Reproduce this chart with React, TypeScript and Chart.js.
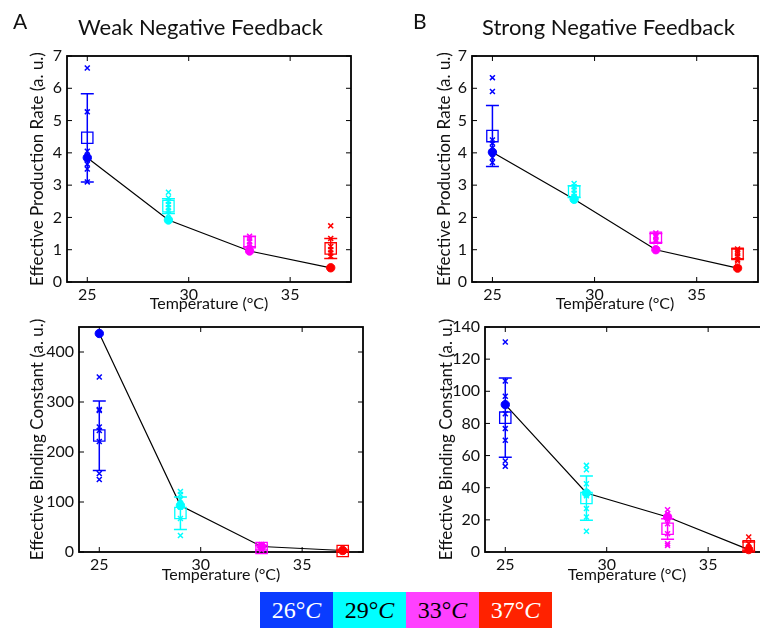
import React, { useEffect, useRef } from 'react';
import { Chart, registerables } from 'chart.js';

Chart.register(...registerables);

// ---------- data ----------
const temperatures = [25, 29, 33, 37];
const tempColors = ['#0000ff', '#00ffff', '#ff00ff', '#ff0000'];
const xTickValues = [25, 30, 35];

const prodTickValues = [0, 1, 2, 3, 4, 5, 6, 7];
const weakBindTickValues = [0, 100, 200, 300, 400];
const strongBindTickValues = [0, 20, 40, 60, 80, 100, 120, 140];

// Weak negative feedback – production rate
const weakProdFit = [3.85, 1.92, 0.96, 0.44];
const weakProdMean = [4.47, 2.35, 1.23, 1.04];
const weakProdLow = [3.1, 2.12, 1.09, 0.73];
const weakProdHigh = [5.83, 2.58, 1.42, 1.35];
const weakProdSamples25 = [6.63, 5.27, 4.05, 3.9, 3.8, 3.65, 3.5, 3.1];
const weakProdSamples29 = [2.78, 2.6, 2.5, 2.4, 2.3, 2.2, 2.1];
const weakProdSamples33 = [1.42, 1.35, 1.25, 1.15, 1.08];
const weakProdSamples37 = [1.74, 1.35, 1.1, 1.0, 0.9, 0.8];

// Strong negative feedback – production rate
const strongProdFit = [4.02, 2.56, 1.0, 0.43];
const strongProdMean = [4.52, 2.8, 1.37, 0.87];
const strongProdLow = [3.58, 2.62, 1.22, 0.72];
const strongProdHigh = [5.47, 2.98, 1.5, 1.02];
const strongProdSamples25 = [6.33, 5.9, 4.4, 4.3, 4.15, 4.0, 3.85, 3.7];
const strongProdSamples29 = [3.05, 2.95, 2.85, 2.75, 2.65, 2.6];
const strongProdSamples33 = [1.52, 1.45, 1.4, 1.3, 1.25];
const strongProdSamples37 = [1.02, 0.95, 0.88, 0.8, 0.7, 0.65];

// Weak negative feedback – binding constant
const weakBindFit = [437, 93, 11, 3];
const weakBindMean = [233, 78, 8, 2];
const weakBindLow = [163, 45, 4, 0.5];
const weakBindHigh = [302, 110, 13, 4];
const weakBindSamples25 = [350, 285, 283, 250, 243, 221, 157, 145];
const weakBindSamples29 = [121, 115, 105, 97, 90, 67, 33];
const weakBindSamples33 = [15, 12, 9, 6, 4];
const weakBindSamples37 = [5, 3, 2, 1];

// Strong negative feedback – binding constant
const strongBindFit = [91.7, 36.7, 21.8, 1.5];
const strongBindMean = [83.6, 33.6, 14.5, 3.5];
const strongBindLow = [59, 19.7, 7.9, 0.6];
const strongBindHigh = [108.3, 47.3, 20.7, 6.2];
const strongBindSamples25 = [130.7, 106.4, 96.9, 86, 76.8, 69.5, 56.6, 53.3];
const strongBindSamples29 = [53.9, 51.2, 42.5, 35, 27, 21.8, 12.9];
const strongBindSamples33 = [26.3, 23.9, 17.6, 11.4, 5.2, 4.1];
const strongBindSamples37 = [9.3, 5.2, 3, 1.5];

const legendTemps = ['26', '29', '33', '37'];
const legendColors = ['#0a3cff', '#00ffff', '#ff40ff', '#ff2200'];
const legendTextColors = ['#ffffff', '#000000', '#000000', '#ffffff'];

// ---------- layout ----------
const CANVAS_W = 780;
const CANVAS_H = 628;
const FONT = 'Lato, "Open Sans", sans-serif';
const Y_TITLE_SIZE = 17;
const X_TITLE_SIZE = 16;

type PanelCfg = {
  fit: number[];
  mean: number[];
  low: number[];
  high: number[];
  samples: number[][];
  yMax: number;
  yTicks: number[];
  yTitle: string;
  area: { L: number; R: number; T: number; B: number };
  yTitleX: number;
  xTitleY: number;
};

const panels: PanelCfg[] = [
  {
    fit: weakProdFit, mean: weakProdMean, low: weakProdLow, high: weakProdHigh,
    samples: [weakProdSamples25, weakProdSamples29, weakProdSamples33, weakProdSamples37],
    yMax: 7, yTicks: prodTickValues, yTitle: 'Effective Production Rate (a. u.)',
    area: { L: 67, R: 351, T: 56, B: 282 }, yTitleX: 38, xTitleY: 304,
  },
  {
    fit: strongProdFit, mean: strongProdMean, low: strongProdLow, high: strongProdHigh,
    samples: [strongProdSamples25, strongProdSamples29, strongProdSamples33, strongProdSamples37],
    yMax: 7, yTicks: prodTickValues, yTitle: 'Effective Production Rate (a. u.)',
    area: { L: 472, R: 758, T: 56, B: 282 }, yTitleX: 445, xTitleY: 304,
  },
  {
    fit: weakBindFit, mean: weakBindMean, low: weakBindLow, high: weakBindHigh,
    samples: [weakBindSamples25, weakBindSamples29, weakBindSamples33, weakBindSamples37],
    yMax: 450, yTicks: weakBindTickValues, yTitle: 'Effective Binding Constant (a. u.)',
    area: { L: 79, R: 363, T: 327, B: 552 }, yTitleX: 38, xTitleY: 575,
  },
  {
    fit: strongBindFit, mean: strongBindMean, low: strongBindLow, high: strongBindHigh,
    samples: [strongBindSamples25, strongBindSamples29, strongBindSamples33, strongBindSamples37],
    yMax: 140, yTicks: strongBindTickValues, yTitle: 'Effective Binding Constant (a. u.)',
    area: { L: 485, R: 769, T: 327, B: 552 }, yTitleX: 447, xTitleY: 575,
  },
];

const frameErrPlugin = {
  id: 'frameErr',
  beforeDatasetsDraw(chart: any) {
    const { ctx, chartArea: a, scales } = chart;
    ctx.save();
    ctx.strokeStyle = '#000';
    ctx.lineWidth = 1.8;
    ctx.strokeRect(a.left, a.top, a.right - a.left, a.bottom - a.top);
    ctx.lineWidth = 1;
    const tl = 5;
    scales.x.ticks.forEach((t: any) => {
      const px = scales.x.getPixelForValue(t.value);
      ctx.beginPath();
      ctx.moveTo(px, a.bottom); ctx.lineTo(px, a.bottom - tl);
      ctx.moveTo(px, a.top); ctx.lineTo(px, a.top + tl);
      ctx.stroke();
    });
    scales.y.ticks.forEach((t: any) => {
      const py = scales.y.getPixelForValue(t.value);
      ctx.beginPath();
      ctx.moveTo(a.left, py); ctx.lineTo(a.left + tl, py);
      ctx.moveTo(a.right, py); ctx.lineTo(a.right - tl, py);
      ctx.stroke();
    });
    ctx.restore();
  },
  afterDatasetsDraw(chart: any, _args: any, opts: any) {
    const { ctx, scales } = chart;
    ctx.save();
    ctx.lineWidth = 1.5;
    opts.x.forEach((xv: number, i: number) => {
      const px = scales.x.getPixelForValue(xv);
      const pl = scales.y.getPixelForValue(opts.low[i]);
      const ph = scales.y.getPixelForValue(opts.high[i]);
      ctx.strokeStyle = opts.colors[i];
      ctx.beginPath();
      ctx.moveTo(px, pl); ctx.lineTo(px, ph);
      ctx.moveTo(px - 6.5, pl); ctx.lineTo(px + 6.5, pl);
      ctx.moveTo(px - 6.5, ph); ctx.lineTo(px + 6.5, ph);
      ctx.stroke();
    });
    ctx.restore();
  },
};

function Panel({ cfg }: { cfg: PanelCfg }) {
  const ref = useRef<HTMLCanvasElement>(null);
  useEffect(() => {
    if (!ref.current) return;
    const xTitleLH = X_TITLE_SIZE * 1.2;
    const yTitleLH = Y_TITLE_SIZE * 1.2;
    const padLeft = cfg.yTitleX - yTitleLH / 2;
    const padBottom = CANVAS_H - (cfg.xTitleY + xTitleLH / 2);
    const padTop = cfg.area.T;
    const padRight = CANVAS_W - cfg.area.R;
    const yAxisW = cfg.area.L - padLeft;
    const xAxisH = CANVAS_H - padBottom - cfg.area.B;

    const samplePoints: any[] = [];
    const sampleColors: string[] = [];
    cfg.samples.forEach((arr, i) =>
      arr.forEach((v) => {
        samplePoints.push({ x: temperatures[i], y: v });
        sampleColors.push(tempColors[i]);
      })
    );
    const toPts = (arr: number[]) => arr.map((v, i) => ({ x: temperatures[i], y: v }));

    const chart = new Chart(ref.current, {
      type: 'scatter',
      data: {
        datasets: [
          {
            label: 'fit',
            data: toPts(cfg.fit),
            pointStyle: 'circle',
            pointRadius: 4.2,
            backgroundColor: tempColors,
            borderColor: tempColors,
            borderWidth: 1,
            clip: false,
          } as any,
          {
            label: 'mean',
            data: toPts(cfg.mean),
            pointStyle: 'rect',
            pointRadius: 8,
            backgroundColor: 'rgba(0,0,0,0)',
            borderColor: tempColors,
            borderWidth: 1.3,
            clip: false,
          } as any,
          {
            label: 'samples',
            data: samplePoints,
            pointStyle: 'crossRot',
            pointRadius: 3.5,
            borderColor: sampleColors,
            backgroundColor: sampleColors,
            borderWidth: 1.5,
            clip: false,
          } as any,
          {
            label: 'line',
            data: toPts(cfg.fit),
            showLine: true,
            borderColor: '#000',
            borderWidth: 1.2,
            pointRadius: 0,
            clip: false,
          } as any,
        ],
      },
      options: {
        responsive: false,
        animation: false,
        events: [],
        layout: { padding: { left: padLeft, right: padRight, top: padTop, bottom: padBottom } },
        plugins: {
          legend: { display: false },
          tooltip: { enabled: false },
          frameErr: { x: temperatures, low: cfg.low, high: cfg.high, colors: tempColors },
        } as any,
        scales: {
          x: {
            type: 'linear',
            min: 24,
            max: 38,
            afterBuildTicks: (s: any) => { s.ticks = xTickValues.map((v) => ({ value: v })); },
            afterFit: (s: any) => { s.height = xAxisH; },
            grid: { display: false, drawTicks: false },
            border: { display: false },
            ticks: { color: '#111', font: { family: FONT, size: 16 }, padding: 3, maxRotation: 0 },
            title: {
              display: true,
              text: 'Temperature (°C)',
              color: '#111',
              font: { family: FONT, size: X_TITLE_SIZE },
              padding: 0,
            },
          },
          y: {
            type: 'linear',
            min: 0,
            max: cfg.yMax,
            afterBuildTicks: (s: any) => { s.ticks = cfg.yTicks.map((v) => ({ value: v })); },
            afterFit: (s: any) => { s.width = yAxisW; },
            grid: { display: false, drawTicks: false },
            border: { display: false },
            ticks: { color: '#111', font: { family: FONT, size: 16 }, padding: 5 },
            title: {
              display: true,
              text: cfg.yTitle,
              color: '#111',
              font: { family: FONT, size: Y_TITLE_SIZE },
              padding: 0,
            },
          },
        },
      } as any,
      plugins: [frameErrPlugin as any],
    });
    return () => chart.destroy();
  }, [cfg]);
  return (
    <canvas
      ref={ref}
      width={CANVAS_W}
      height={CANVAS_H}
      style={{ position: 'absolute', left: 0, top: 0, width: CANVAS_W, height: CANVAS_H }}
    />
  );
}

export default function App() {
  const titleStyle: React.CSSProperties = {
    position: 'absolute',
    fontFamily: FONT,
    color: '#111',
    whiteSpace: 'nowrap',
  };
  return (
    <div
      style={{
        position: 'absolute',
        left: 0,
        top: 0,
        width: 760,
        height: 628,
        overflow: 'hidden',
        background: '#fff',
      }}
    >
      {panels.map((p, i) => (
        <Panel key={i} cfg={p} />
      ))}
      <div style={{ ...titleStyle, left: 13, top: 10, fontSize: 21, lineHeight: '21px' }}>A</div>
      <div style={{ ...titleStyle, left: 413, top: 10, fontSize: 21, lineHeight: '21px' }}>B</div>
      <div style={{ ...titleStyle, left: 78, top: 16, fontSize: 22, lineHeight: '22px' }}>
        Weak Negative Feedback
      </div>
      <div style={{ ...titleStyle, left: 482, top: 16, fontSize: 22, lineHeight: '22px' }}>
        Strong Negative Feedback
      </div>
      <div style={{ position: 'absolute', left: 260, top: 592, height: 36, display: 'flex' }}>
        {legendTemps.map((t, i) => (
          <div
            key={t}
            style={{
              width: 73,
              height: 36,
              background: legendColors[i],
              color: legendTextColors[i],
              fontFamily: '"Liberation Serif", "DejaVu Serif", serif',
              fontSize: 24,
              display: 'flex',
              alignItems: 'center',
              justifyContent: 'center',
            }}
          >
            {t}°<i>C</i>
          </div>
        ))}
      </div>
    </div>
  );
}
